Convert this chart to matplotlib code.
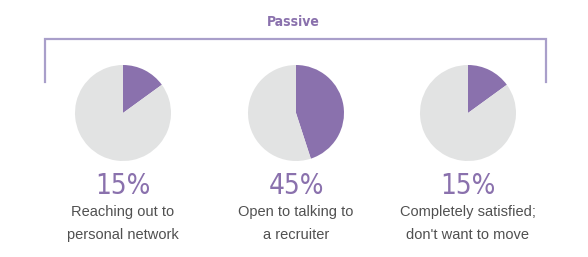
import matplotlib
matplotlib.use("Agg")
import matplotlib.pyplot as plt
from matplotlib import font_manager
from matplotlib.font_manager import FontProperties

# Data
categories = ["Reaching out to\npersonal network",
              "Open to talking to\na recruiter",
              "Completely satisfied;\ndon't want to move"]
values = [15, 45, 15]
group_label = "Passive"

W, H = 588, 257
DPI = 100
fig = plt.figure(figsize=(W / DPI, H / DPI), dpi=DPI)
fig.patch.set_facecolor("white")

# find a condensed / narrow font if available
cands = []
for f in font_manager.fontManager.ttflist:
    fn = f.fname.lower()
    if ("narrow" in fn or "condensed" in fn) and "oblique" not in fn and "italic" not in fn:
        cands.append(f.fname)
def pick(keys):
    for k in keys:
        for c in cands:
            if k in c.lower():
                return c
    return None
cond_reg = pick(["liberationsansnarrow-regular", "dejavusanscondensed.ttf", "condensed-light", "condensed-regular", "narrow"])
cond_bold = pick(["liberationsansnarrow-bold.", "dejavusanscondensed-bold.", "condensed-medium", "condensed-semibold", "condensed-bold"])
fp_pct = FontProperties(fname=cond_reg, size=20) if cond_reg else FontProperties(family="DejaVu Sans", size=18)
fp_pass = FontProperties(fname=cond_bold, size=10) if cond_bold else FontProperties(family="DejaVu Sans", size=9.5, weight="bold")

purple = "#8a71ad"
gray = "#e2e3e3"
bracket_c = "#a99fca"
text_c = "#505050"

bg = fig.add_axes([0, 0, 1, 1])
bg.set_xlim(0, W)
bg.set_ylim(H, 0)
bg.axis("off")

# bracket
bg.plot([45, 45, 546, 546], [82, 39, 39, 82], color=bracket_c, lw=1.6,
        solid_joinstyle="miter")
bg.text(293, 22, group_label, ha="center", va="center", color=purple,
        fontproperties=fp_pass)

centers = [123, 296, 468]
cy = 113
r = 48
for cx, v, lab in zip(centers, values, categories):
    ax = fig.add_axes([(cx - r) / W, 1 - (cy + r) / H, 2 * r / W, 2 * r / H])
    ax.pie([v, 100 - v], colors=[purple, gray], startangle=90,
           counterclock=False, wedgeprops=dict(linewidth=0))
    ax.set_aspect("auto")
    ax.set_xlim(-1, 1)
    ax.set_ylim(-1, 1)
    ax.axis("off")
    bg.text(cx, 186, f"{v}%", ha="center", va="center", color=purple,
            fontproperties=fp_pct)
    l1, l2 = lab.split("\n")
    bg.text(cx, 212, l1, ha="center", va="center", color=text_c,
            fontsize=10.5, family="Liberation Sans")
    bg.text(cx, 235, l2, ha="center", va="center", color=text_c,
            fontsize=10.5, family="Liberation Sans")

fig.savefig("out.png", dpi=DPI, facecolor="white")
